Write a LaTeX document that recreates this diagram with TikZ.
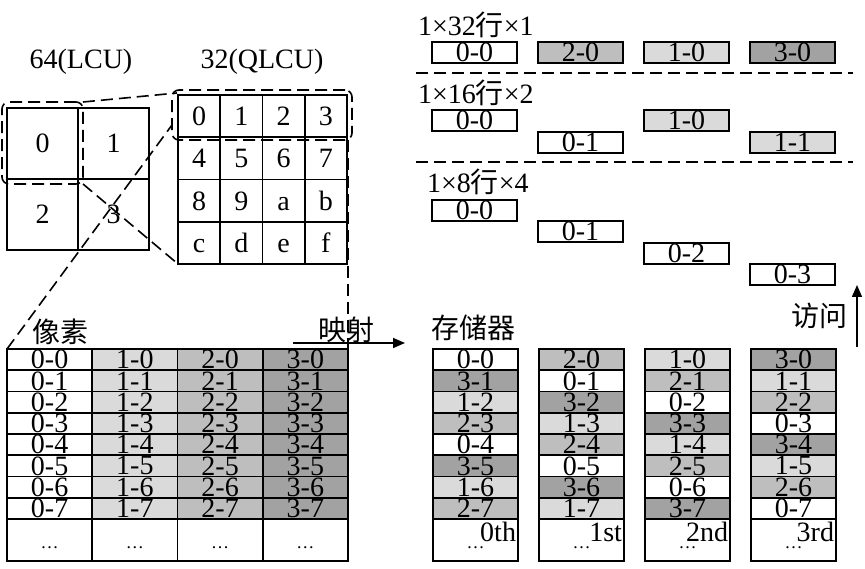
\documentclass[tikz,border=0pt]{standalone}
\usepackage{fontspec}
\setmainfont{Liberation Serif}
\newfontfamily\cjk{Noto Sans CJK SC}
\usetikzlibrary{arrows.meta}
\definecolor{shade0}{HTML}{FFFFFF}
\definecolor{shade1}{HTML}{DADADA}
\definecolor{shade2}{HTML}{BEBEBE}
\definecolor{shade3}{HTML}{A2A2A2}
\begin{document}
\begin{tikzpicture}[x=1pt,y=-1pt,
  every node/.style={inner sep=0pt,outer sep=0pt},
  txt/.style={font=\fontsize{28}{28}\selectfont},
  cjktxt/.style={font=\cjk\fontsize{28}{28}\selectfont},
  cell/.style={draw,line width=1.6pt,anchor=north west,font=\fontsize{28}{28}\selectfont},
  pcell/.style={cell,minimum width=85.25pt,minimum height=21.25pt},
  mcell/.style={cell,minimum width=85pt,minimum height=21.25pt},
  bcell/.style={cell,minimum width=85pt,minimum height=21pt},
  lcell/.style={cell,minimum width=71pt,minimum height=71pt,text height=19pt,text depth=0pt},
  qcell/.style={cell,minimum width=42.25pt,minimum height=42.25pt,text height=19pt,text depth=0pt},
  hl/.style={draw,line width=1.6pt,dash pattern=on 12pt off 6pt,rounded corners=7pt,anchor=north west},
  dline/.style={line width=1.6pt,dash pattern=on 12pt off 6pt},
  arr/.style={line width=1.6pt,-{Triangle[length=12pt,width=10pt]}},
  dots/.style={font=\fontsize{18}{18}\selectfont}
]
\useasboundingbox (0,0) rectangle (865,569);

% ---------- LCU ----------
\node[txt] (lculab) at (81,62) {64(LCU)};
\foreach \i/\cx/\cy in {0/0/0,1/1/0,2/0/1,3/1/1}
  \node[lcell] (l\i) at (7+71*\cx,108+71*\cy) {\i};

% ---------- QLCU ----------
\node[txt] (qlab) at (262,62) {32(QLCU)};
\foreach \t [count=\k from 0] in {0,1,2,3,4,5,6,7,8,9,a,b,c,d,e,f} {
  \pgfmathtruncatemacro\cx{mod(\k,4)}
  \pgfmathtruncatemacro\cy{div(\k,4)}
  \node[qcell] (q\k) at (178+42.25*\cx,95+42.25*\cy) {\t};
}

% ---------- pixel table ----------
\node[cjktxt] (pixlab) at (60,332) {像素};
\foreach \c in {0,...,3} {
  \foreach \r in {0,...,7}
    \node[pcell,fill=shade\c] (p\c-\r) at (7+85.25*\c,349+21.25*\r) {\c-\r};
  \node[pcell,minimum height=42pt] (p\c-e) at (7+85.25*\c,519) {};
  \node[dots] (pd\c) at ([yshift=-29pt]p\c-e.north) {\ldots};
}

% ---------- memory ----------
\node[cjktxt] (memlab) at (473,328) {存储器};
\foreach \m/\lst in {0/{0,3,1,2,0,3,1,2},1/{2,0,3,1,2,0,3,1},2/{1,2,0,3,1,2,0,3},3/{3,1,2,0,3,1,2,0}} {
  \foreach \d [count=\r from 0] in \lst
    \node[mcell,fill=shade\d] (m\m-\r) at (433+106*\m,349+21.25*\r) {\d-\r};
  \node[mcell,minimum height=42pt] (m\m-e) at (433+106*\m,519) {};
  \node[dots] (md\m) at ([yshift=-29pt]m\m-e.north) {\ldots};
}
\foreach \m/\o in {0/0th,1/1st,2/2nd,3/3rd}
  \node[txt,anchor=east] (o\m) at ([shift={(-2,13)}]m\m-e.north east) {\o};

% ---------- access patterns ----------
\node[txt,anchor=west] (t1) at (418,25) {1×32{\cjk 行}×1};
\foreach \m/\t/\s in {0/0-0/0,1/2-0/2,2/1-0/1,3/3-0/3}
  \node[bcell,fill=shade\s] (a\m) at (432+106*\m,42) {\t};
\coordinate (s1a) at (416,73); \coordinate (s1b) at (853,73);
\draw[dline] (s1a) -- (s1b);

\node[txt,anchor=west] (t2) at (418,93) {1×16{\cjk 行}×2};
\node[bcell,fill=shade0] (b0) at (432,110) {0-0};
\node[bcell,fill=shade0] (b1) at (538,132) {0-1};
\node[bcell,fill=shade1] (b2) at (644,110) {1-0};
\node[bcell,fill=shade1] (b3) at (750,132) {1-1};
\coordinate (s2a) at (416,162); \coordinate (s2b) at (853,162);
\draw[dline] (s2a) -- (s2b);

\node[txt,anchor=west] (t3) at (427,182) {1×8{\cjk 行}×4};
\node[bcell,fill=shade0] (c0) at (432,200) {0-0};
\node[bcell,fill=shade0] (c1) at (538,221) {0-1};
\node[bcell,fill=shade0] (c2) at (644,243) {0-2};
\node[bcell,fill=shade0] (c3) at (750,264) {0-3};

% ---------- highlights and zoom lines ----------
\node[hl,minimum width=81pt,minimum height=82pt] (lhl) at (2,102) {};
\node[hl,minimum width=180pt,minimum height=50pt] (qhl) at (172,90) {};
\draw[dline] (lhl.north east) -- ([shift={(5,3)}]qhl.north west);
\draw[dline] (lhl.south east) -- (q12.south west);
\draw[dline] (p0-0.north west) -- ([yshift=15pt]qhl.south west);
\draw[dline] (p3-0.north east |- qhl.south east) -- (p3-0.north east);

% ---------- arrows ----------
\node[cjktxt] (maplab) at (346,330) {映射};
\coordinate (ms) at (293,343); \coordinate (me) at (405,343);
\draw[arr] (ms) -- (me);
\node[cjktxt] (acclab) at (819,316) {访问};
\coordinate (as) at (857,347); \coordinate (ae) at (857,285);
\draw[arr] (as) -- (ae);
\end{tikzpicture}
\end{document}
